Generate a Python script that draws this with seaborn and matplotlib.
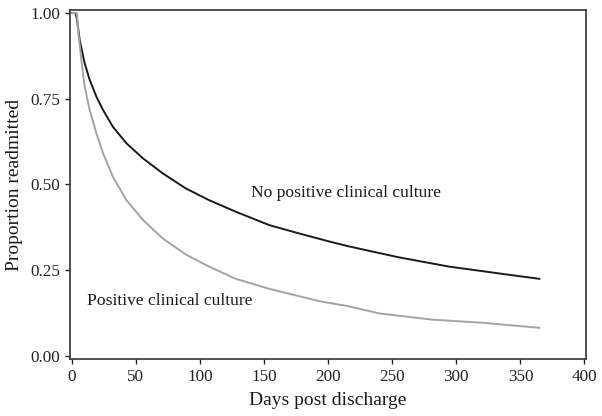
import numpy as np
import pandas as pd
import matplotlib
matplotlib.use("Agg")
import matplotlib.pyplot as plt
import seaborn as sns

# values (days, proportion readmitted)
days_neg = [0, 3, 4.1, 6.2, 10.1, 14, 19.2, 24.4, 32.1, 42.6, 55.5, 71, 89, 107,
            128, 154, 177, 201, 216, 255, 294, 333, 365]
vals_neg = [1.0, 1.0, 0.98, 0.921, 0.853, 0.805, 0.756, 0.717, 0.668, 0.620, 0.576,
            0.532, 0.488, 0.454, 0.420, 0.381, 0.357, 0.333, 0.319, 0.287, 0.260,
            0.240, 0.224]

days_pos = [0, 4, 4.9, 7.5, 10.1, 14, 19.2, 24.4, 32.1, 42.6, 55.5, 71, 89, 107,
            128, 154, 193, 216, 240, 281, 320, 365]
vals_pos = [1.0, 1.0, 0.951, 0.863, 0.785, 0.717, 0.649, 0.591, 0.522, 0.454, 0.396,
            0.342, 0.295, 0.260, 0.224, 0.195, 0.159, 0.144, 0.123, 0.105, 0.096, 0.081]

groups = ["No positive clinical culture", "Positive clinical culture"]

df = pd.concat([
    pd.DataFrame({"day": days_neg, "prop": vals_neg, "group": groups[0]}),
    pd.DataFrame({"day": days_pos, "prop": vals_pos, "group": groups[1]}),
])

sns.set_style("ticks")
plt.rcParams["font.family"] = ["Liberation Serif", "DejaVu Serif"]

fig = plt.figure(figsize=(6.02, 4.16), dpi=100)
ax = fig.add_axes([0.116, 0.137, 0.857, 0.839])

sns.lineplot(data=df, x="day", y="prop", hue="group", sort=False,
             palette={groups[0]: "#1a1a1a", groups[1]: "#a3a3a3"},
             linewidth=1.4, legend=False, ax=ax, solid_joinstyle="round")

ax.text(140, 0.475, groups[0], fontsize=12.6, va="center", ha="left", color="#1a1a1a")
ax.text(11.7, 0.158, groups[1], fontsize=12.6, va="center", ha="left", color="#1a1a1a")

ax.set_xlim(-1.5, 401)
ax.set_ylim(-0.01, 1.009)
ax.set_xticks([0, 50, 100, 150, 200, 250, 300, 350, 400])
ax.set_yticks([0, 0.25, 0.5, 0.75, 1.0])
ax.set_yticklabels(["0.00", "0.25", "0.50", "0.75", "1.00"])
ax.tick_params(labelsize=12.3, length=3.5, width=1, colors="#222222", labelcolor="#222222")
for s in ax.spines.values():
    s.set_color("#333333")
    s.set_linewidth(1.2)

ax.set_xlabel("Days post discharge", fontsize=14, color="#1a1a1a", labelpad=5)
ax.set_ylabel("Proportion readmitted", fontsize=14, color="#1a1a1a", labelpad=5)

fig.savefig("out.png", dpi=100)
